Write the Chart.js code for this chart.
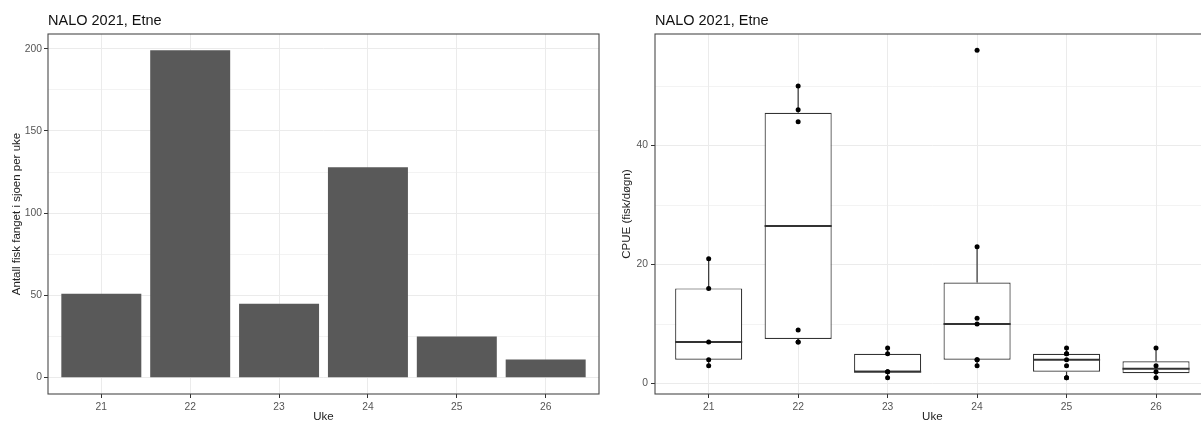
<!DOCTYPE html>
<html>
<head>
<meta charset="utf-8">
<script src="https://cdn.jsdelivr.net/npm/chart.js@4.4.1/dist/chart.umd.min.js"></script>
<style>
  html, body { margin: 0; padding: 0; background: #ffffff; overflow: hidden; }
  #wrap { position: relative; width: 1201px; height: 423px; overflow: hidden; background: #fff; }
  #left { position: absolute; left: 0; top: 0; }
  #right { position: absolute; left: 600px; top: 0; }
</style>
</head>
<body>
<div id="wrap">
  <canvas id="left" width="600" height="423"></canvas>
  <canvas id="right" width="620" height="423"></canvas>
</div>
<script>
// ---------- data ----------
const weeks = [21, 22, 23, 24, 25, 26];
const weekLabels = ['21', '22', '23', '24', '25', '26'];
const fishCaught = [51, 199, 45, 128, 25, 11];

const cpueWeek21 = [3, 4, 7, 16, 21];
const cpueWeek22 = [7, 7, 9, 44, 46, 50];
const cpueWeek23 = [1, 2, 2, 5, 6];
const cpueWeek24 = [3, 4, 4, 10, 11, 23, 56];
const cpueWeek25 = [1, 1, 3, 4, 5, 5, 6];
const cpueWeek26 = [1, 2, 3, 6];
const cpueByWeek = [cpueWeek21, cpueWeek22, cpueWeek23, cpueWeek24, cpueWeek25, cpueWeek26];

const leftYTicks = [0, 25, 50, 75, 100, 125, 150, 175, 200];
const leftYLabels = [0, 50, 100, 150, 200];
const rightYTicks = [0, 10, 20, 30, 40, 50];
const rightYLabels = [0, 20, 40];

const titleText = 'NALO 2021, Etne';
const xTitle = 'Uke';
const leftYTitle = 'Antall fisk fanget i sjoen per uke';
const rightYTitle = 'CPUE (fisk/døgn)';

// ---------- helpers ----------
function quantile7(arr, p) {
  const s = [...arr].sort((a, b) => a - b);
  const h = (s.length - 1) * p;
  const lo = Math.floor(h), hi = Math.ceil(h);
  return s[lo] + (h - lo) * (s[hi] - s[lo]);
}
const boxStats = cpueByWeek.map(vals => {
  const q1 = quantile7(vals, 0.25), med = quantile7(vals, 0.5), q3 = quantile7(vals, 0.75);
  const iqr = q3 - q1;
  const inside = vals.filter(v => v >= q1 - 1.5 * iqr && v <= q3 + 1.5 * iqr);
  return { q1, med, q3, lo: Math.min(...inside), hi: Math.max(...inside) };
});

function expand(min, max) { const r = max - min; return [min - 0.05 * r, max + 0.05 * r]; }
const [leftYMin, leftYMax] = expand(0, Math.max(...fishCaught));
const allCpue = cpueByWeek.flat();
const [rightYMin, rightYMax] = expand(Math.min(...allCpue), Math.max(...allCpue));
const xMin = weeks[0] - 0.6, xMax = weeks[weeks.length - 1] + 0.6;

const FONT = '"Liberation Sans", Arial, Helvetica, sans-serif';
const GRID = '#EBEBEB';
const TICKCOL = '#333333';
const LABELCOL = '#555555';

const panelBorder = {
  id: 'panelBorder',
  afterDraw(chart) {
    const { left, top, right, bottom } = chart.chartArea;
    const ctx = chart.ctx;
    ctx.save();
    ctx.strokeStyle = '#4a4a4a';
    ctx.lineWidth = 1.1;
    ctx.strokeRect(left, top, right - left, bottom - top);
    ctx.restore();
  }
};

function xScaleOpts() {
  return {
    type: 'linear',
    min: xMin, max: xMax,
    offset: false,
    afterBuildTicks: s => { s.ticks = weeks.map(v => ({ value: v })); },
    afterFit: s => { s.height = 29; },
    border: { display: false },
    grid: { offset: false, color: GRID, lineWidth: 1, tickLength: 4, tickColor: TICKCOL, tickWidth: 1 },
    ticks: {
      color: LABELCOL, font: { family: FONT, size: 10.3 }, padding: 3, maxRotation: 0,
      callback: (v) => weekLabels[weeks.indexOf(v)] ?? ''
    },
    title: { display: true, text: xTitle, color: '#222', font: { family: FONT, size: 11.5, lineHeight: 1 }, padding: { top: 0, bottom: 0 } }
  };
}

function yScaleOpts(min, max, tickVals, labelVals, width, titleText, titlePad, labelPad) {
  return {
    type: 'linear',
    min, max,
    afterBuildTicks: s => { s.ticks = tickVals.map(v => ({ value: v })); },
    afterFit: s => { s.width = width; },
    border: { display: false },
    grid: {
      color: GRID,
      lineWidth: c => labelVals.includes(c.tick && c.tick.value) ? 1 : 0.6,
      tickLength: 4,
      tickColor: c => labelVals.includes(c.tick && c.tick.value) ? TICKCOL : 'rgba(0,0,0,0)',
      tickWidth: 1
    },
    ticks: {
      color: LABELCOL, font: { family: FONT, size: 10.3 }, padding: labelPad,
      callback: v => labelVals.includes(v) ? String(v) : ''
    },
    title: { display: true, text: titleText, color: '#222', font: { family: FONT, size: 11.5, lineHeight: 1 }, padding: { top: titlePad, bottom: 0 } }
  };
}

function titleOpts() {
  return {
    display: true, text: titleText, align: 'start', fullSize: false, color: '#111',
    font: { family: FONT, size: 14.5, weight: 'normal', lineHeight: 1.2 },
    padding: { top: 12, bottom: 4.6 }
  };
}

// ---------- left chart: bars ----------
new Chart(document.getElementById('left'), {
  type: 'bar',
  data: {
    datasets: [{
      data: weeks.map((w, i) => ({ x: w, y: fishCaught[i] })),
      backgroundColor: '#595959',
      borderWidth: 0,
      categoryPercentage: 0.9,
      barPercentage: 1
    }]
  },
  options: {
    responsive: false, animation: false,
    layout: { padding: { left: 0, right: 1, top: 0, bottom: 0 } },
    plugins: { legend: { display: false }, tooltip: { enabled: false }, title: titleOpts() },
    scales: {
      x: xScaleOpts(),
      y: yScaleOpts(leftYMin, leftYMax, leftYTicks, leftYLabels, 48, leftYTitle, 11, 2)
    }
  },
  plugins: [panelBorder]
});

// ---------- right chart: boxplots ----------
const boxPlugin = {
  id: 'boxWhiskers',
  afterDatasetDraw(chart, args) {
    if (args.index !== 1) return;
    const y = chart.scales.y;
    const meta = chart.getDatasetMeta(1);
    const ctx = chart.ctx;
    ctx.save();
    ctx.strokeStyle = '#333333';
    boxStats.forEach((s, i) => {
      const bar = meta.data[i];
      const cx = bar.x, half = bar.width / 2;
      ctx.lineWidth = 1.2;
      ctx.beginPath();
      ctx.moveTo(cx, y.getPixelForValue(s.q3)); ctx.lineTo(cx, y.getPixelForValue(s.hi));
      ctx.moveTo(cx, y.getPixelForValue(s.q1)); ctx.lineTo(cx, y.getPixelForValue(s.lo));
      ctx.stroke();
      ctx.lineWidth = 2;
      ctx.beginPath();
      ctx.moveTo(cx - half, y.getPixelForValue(s.med)); ctx.lineTo(cx + half, y.getPixelForValue(s.med));
      ctx.stroke();
    });
    ctx.restore();
  }
};

const points = [];
cpueByWeek.forEach((vals, i) => vals.forEach(v => points.push({ x: weeks[i], y: v })));

new Chart(document.getElementById('right'), {
  type: 'bar',
  data: {
    datasets: [
      {
        type: 'scatter',
        data: points,
        backgroundColor: '#000',
        borderColor: '#000',
        pointRadius: 2.5,
        borderWidth: 0,
        order: 0
      },
      {
        type: 'bar',
        data: weeks.map((w, i) => ({ x: w, y: [boxStats[i].q1, boxStats[i].q3] })),
        backgroundColor: '#ffffff',
        borderColor: '#333333',
        borderWidth: 1.2,
        borderSkipped: false,
        categoryPercentage: 0.75,
        barPercentage: 1,
        order: 1
      }
    ]
  },
  options: {
    responsive: false, animation: false,
    layout: { padding: { left: 0, right: 10.3, top: 0, bottom: 0 } },
    plugins: { legend: { display: false }, tooltip: { enabled: false }, title: titleOpts() },
    scales: {
      x: xScaleOpts(),
      y: yScaleOpts(rightYMin, rightYMax, rightYTicks, rightYLabels, 55, rightYTitle, 21.5, 3)
    }
  },
  plugins: [boxPlugin, panelBorder]
});
</script>
</body>
</html>
